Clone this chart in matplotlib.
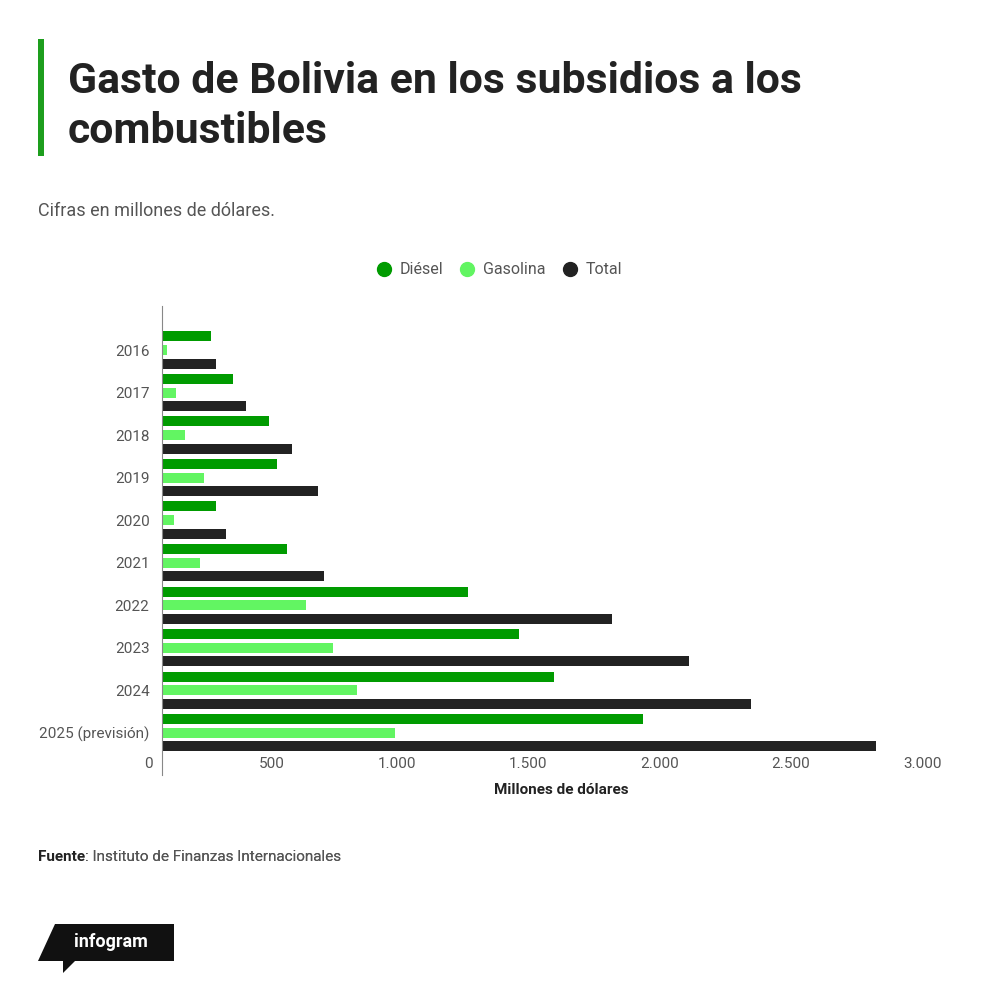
import matplotlib.pyplot as plt
from matplotlib.lines import Line2D
from matplotlib.patches import Rectangle, Polygon
from matplotlib.transforms import ScaledTranslation
import numpy as np

plt.rcParams['font.family'] = ['Roboto', 'DejaVu Sans']

years = ['2016', '2017', '2018', '2019', '2020', '2021', '2022', '2023', '2024', '2025 (previsión)']
diesel = [186, 271, 408, 437, 205, 476, 1165, 1359, 1492, 1830]
gasolina = [18, 53, 86, 159, 44, 143, 546, 651, 741, 885]
total = [205, 318, 494, 594, 242, 617, 1711, 2005, 2238, 2714]
xticks = [0, 500, 1000, 1500, 2000, 2500, 3000]
xticklabels = ['0', '500', '1.000', '1.500', '2.000', '2.500', '3.000']

c_diesel = '#009b00'
c_gas = '#62f562'
c_total = '#222222'
gray = '#555555'

W, H = 1000, 993
fig = plt.figure(figsize=(W / 100, H / 100), dpi=100)

# plot area in pixels: left 162, right 951, top 306, bottom 775
ax = fig.add_axes([162 / W, 1 - 775 / H, (951 - 162) / W, (775 - 306) / H])

y = np.arange(len(years))
off = 0.32
h = 0.235
ax.barh(y - off, diesel, height=h, color=c_diesel)
ax.barh(y, gasolina, height=h, color=c_gas)
ax.barh(y + off, total, height=h, color=c_total)

ax.set_xlim(0, 3000)
ax.set_ylim(9.995, -1.035)
ax.set_yticks(y)
ax.set_yticklabels(years)
ax.set_xticks(xticks)
ax.set_xticklabels(xticklabels)
ax.tick_params(axis='y', length=0, pad=9, labelsize=11, labelcolor=gray)
ax.tick_params(axis='x', length=0, pad=-13, labelsize=11, labelcolor=gray)
# labels sit right-aligned, a little left of their value
for lab in ax.get_xticklabels():
    lab.set_ha('right')
    lab.set_transform(lab.get_transform() + ScaledTranslation(-9 / 100, 0, fig.dpi_scale_trans))

for s in ['top', 'right', 'bottom']:
    ax.spines[s].set_visible(False)
ax.spines['left'].set_color('#888888')
ax.spines['left'].set_linewidth(0.8)

fig.text(561 / W, 1 - 790 / H, 'Millones de dólares', ha='center', va='center',
         fontsize=11, fontweight='bold', color='#222222')

# legend
handles = [Line2D([], [], marker='o', ls='', color=c, markersize=10)
           for c in [c_diesel, c_gas, c_total]]
fig.legend(handles, ['Diésel', 'Gasolina', 'Total'], loc='center',
           bbox_to_anchor=(499 / W, 1 - 270 / H), ncol=3, frameon=False,
           fontsize=11.5, labelcolor=gray, handletextpad=0.5, columnspacing=1.0,
           handlelength=1.0)

# title block
fig.add_artist(Rectangle((38 / W, 1 - 156 / H), 6 / W, 117 / H,
                         transform=fig.transFigure, color='#1d9e1d', lw=0))
fig.text(68 / W, 1 - 93 / H, 'Gasto de Bolivia en los subsidios a los', ha='left',
         va='baseline', fontsize=30.8, fontweight='bold', color='#222222')
fig.text(68 / W, 1 - 143 / H, 'combustibles', ha='left',
         va='baseline', fontsize=30.8, fontweight='bold', color='#222222')
fig.text(38 / W, 1 - 216 / H, 'Cifras en millones de dólares.', ha='left',
         va='baseline', fontsize=13, color=gray)

# source
t1 = fig.text(38 / W, 1 - 861 / H, 'Fuente', ha='left', va='baseline',
              fontsize=11, fontweight='bold', color='#222222')
fig.add_artist(plt.annotate(': Instituto de Finanzas Internacionales', xy=(1, 0),
                            xycoords=t1, ha='left', va='bottom', fontsize=11,
                            color=gray, annotation_clip=False))

# infogram logo
logo = [(55, 924), (174, 924), (174, 961), (75, 961), (63, 973), (63, 961), (38, 961)]
fig.add_artist(Polygon([(px / W, 1 - py / H) for px, py in logo], closed=True,
                       transform=fig.transFigure, color='#111111', lw=0))
fig.text(111 / W, 1 - 942 / H, 'infogram', ha='center', va='center',
         fontsize=13, fontweight='bold', color='white')

fig.savefig('out.png', dpi=100)
